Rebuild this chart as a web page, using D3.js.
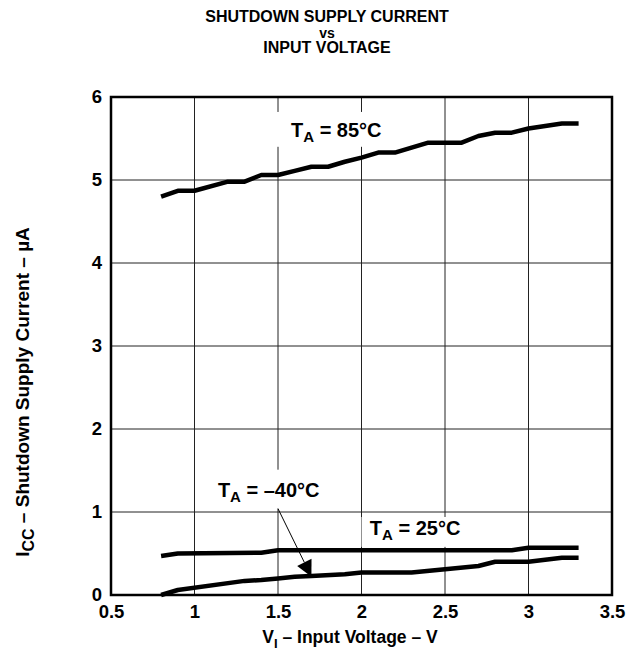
<!DOCTYPE html>
<html><head><meta charset="utf-8">
<script src="https://cdn.jsdelivr.net/npm/d3@7"></script>
<style>
body{margin:0;background:#fff}
text{font-family:"Liberation Sans",Arial,Helvetica,sans-serif;font-weight:bold;fill:#000}
</style>
</head><body>
<svg id="c" width="643" height="662"></svg>
<script>
// ---- data ----
const titleLines = ["SHUTDOWN SUPPLY CURRENT", "vs", "INPUT VOLTAGE"];
const xTicks = [0.5, 1, 1.5, 2, 2.5, 3, 3.5];
const yTicks = [0, 1, 2, 3, 4, 5, 6];
const xTickLabels = ["0.5", "1", "1.5", "2", "2.5", "3", "3.5"];
const yTickLabels = ["0", "1", "2", "3", "4", "5", "6"];

const voltage85 = [0.8,0.9,1.0,1.2,1.3,1.4,1.5,1.6,1.7,1.8,1.9,2.0,2.1,2.2,2.3,2.4,2.5,2.6,2.7,2.8,2.9,3.0,3.1,3.2,3.3];
const current85 = [4.80,4.87,4.87,4.98,4.98,5.06,5.06,5.11,5.16,5.16,5.22,5.27,5.33,5.33,5.39,5.45,5.45,5.45,5.53,5.57,5.57,5.62,5.65,5.68,5.68];

const voltage25 = [0.8,0.9,1.4,1.5,2.9,3.0,3.3];
const current25 = [0.47,0.50,0.51,0.54,0.54,0.57,0.57];

const voltageM40 = [0.8,0.9,1.3,1.4,1.5,1.6,1.7,1.9,2.0,2.3,2.5,2.7,2.8,3.0,3.2,3.3];
const currentM40 = [0.00,0.06,0.17,0.18,0.20,0.22,0.23,0.25,0.27,0.27,0.31,0.35,0.40,0.40,0.45,0.45];

// ---- layout ----
const svg = d3.select("#c");
const L = 111, R = 612, T = 97, B = 595;
const FF = '"Liberation Sans",Arial,Helvetica,sans-serif';
const x = d3.scaleLinear().domain([0.5, 3.5]).range([L, R]);
const y = d3.scaleLinear().domain([0, 6]).range([B, T]);

// title
svg.append("g").selectAll("text").data(titleLines).join("text")
  .attr("x", 327).attr("y", (d, i) => 22 + i * 15.5)
  .attr("text-anchor", "middle").style("font-size", (d,i)=> i===1 ? "14px" : "16px")
  .text(d => d);

// grid
const grid = svg.append("g").attr("stroke", "#222").attr("stroke-width", 1);
grid.selectAll("line.v").data(xTicks.slice(1, -1)).join("line")
  .attr("x1", d => x(d)).attr("x2", d => x(d)).attr("y1", T).attr("y2", B);
grid.selectAll("line.h").data(yTicks.slice(1, -1)).join("line")
  .attr("y1", d => y(d)).attr("y2", d => y(d)).attr("x1", L).attr("x2", R);

// axes (labels only, via d3 axis)
const xAxis = d3.axisBottom(x).tickValues(xTicks).tickSize(0).tickPadding(10)
  .tickFormat((d, i) => xTickLabels[i]);
const gx = svg.append("g").attr("transform", `translate(0,${B})`).call(xAxis)
  .attr("font-size", null).attr("font-family", null);
gx.select(".domain").remove();
gx.selectAll("text").style("font-size", "18.5px").style("font-family", FF).style("font-weight", "bold");

const yAxis = d3.axisLeft(y).tickValues(yTicks).tickSize(0).tickPadding(9)
  .tickFormat((d, i) => yTickLabels[i]);
const gy = svg.append("g").attr("transform", `translate(${L},0)`).call(yAxis)
  .attr("font-size", null).attr("font-family", null);
gy.select(".domain").remove();
gy.selectAll("text").style("font-size", "18.5px").style("font-family", FF).style("font-weight", "bold");

// label backgrounds (white boxes that break the grid)
const bgs = [[1.45, 2.3, 5.82, 5.40], [1.08, 1.92, 1.51, 1.04], [2.0, 2.78, 0.94, 0.58]];
svg.append("g").selectAll("rect").data(bgs).join("rect")
  .attr("x", d => x(d[0])).attr("width", d => x(d[1]) - x(d[0]))
  .attr("y", d => y(d[2])).attr("height", d => y(d[3]) - y(d[2]))
  .attr("fill", "#fff");

// frame
svg.append("rect").attr("x", L).attr("y", T).attr("width", R - L).attr("height", B - T)
  .attr("fill", "none").attr("stroke", "#000").attr("stroke-width", 2.5);

// curves
const line = d3.line().x(d => x(d[0])).y(d => y(d[1]));
const series = [
  d3.zip(voltage85, current85),
  d3.zip(voltage25, current25),
  d3.zip(voltageM40, currentM40)
];
svg.append("g").selectAll("path").data(series).join("path")
  .attr("d", line).attr("fill", "none").attr("stroke", "#000")
  .attr("stroke-width", 4.5).attr("stroke-linejoin", "round");

// annotations
function tlabel(vx, vy, temp) {
  const t = svg.append("text").attr("x", x(vx)).attr("y", y(vy)).style("font-size", "20px");
  t.append("tspan").text("T");
  t.append("tspan").attr("dy", 5).style("font-size", "15px").text("A");
  t.append("tspan").attr("dy", -5).text(" = " + temp + "\u00B0C");
}
tlabel(1.578, 5.52, "85");
tlabel(1.14, 1.18, "\u201340");
tlabel(2.05, 0.72, "25");

// arrow for -40
const ax1 = x(1.5), ay1 = y(1.04), ax2 = x(1.70), ay2 = y(0.22);
const ang = Math.atan2(ay2 - ay1, ax2 - ax1);
const hl = 16, hw = 8;
const bx = ax2 - hl * Math.cos(ang), by = ay2 - hl * Math.sin(ang);
svg.append("line").attr("x1", ax1).attr("y1", ay1).attr("x2", bx).attr("y2", by)
  .attr("stroke", "#000").attr("stroke-width", 1);
svg.append("path").attr("d", `M${ax2},${ay2}L${bx + hw * Math.sin(ang)},${by - hw * Math.cos(ang)}L${bx - hw * Math.sin(ang)},${by + hw * Math.cos(ang)}Z`)
  .attr("fill", "#000");

// x title
const xt = svg.append("text").attr("x", 350).attr("y", 643).attr("text-anchor", "middle").style("font-size", "17.5px");
xt.append("tspan").text("V");
xt.append("tspan").attr("dy", 5).style("font-size", "13px").text("I");
xt.append("tspan").attr("dy", -5).text(" \u2013 Input Voltage \u2013 V");

// y title
const yt = svg.append("text").attr("transform", `translate(29,${392}) rotate(-90)`)
  .attr("text-anchor", "middle").style("font-size", "19px");
yt.append("tspan").text("I");
yt.append("tspan").attr("dy", 5).style("font-size", "16px").text("CC");
yt.append("tspan").attr("dy", -5).text(" \u2013 Shutdown Supply Current \u2013 \u00B5A");
</script>
</body></html>
